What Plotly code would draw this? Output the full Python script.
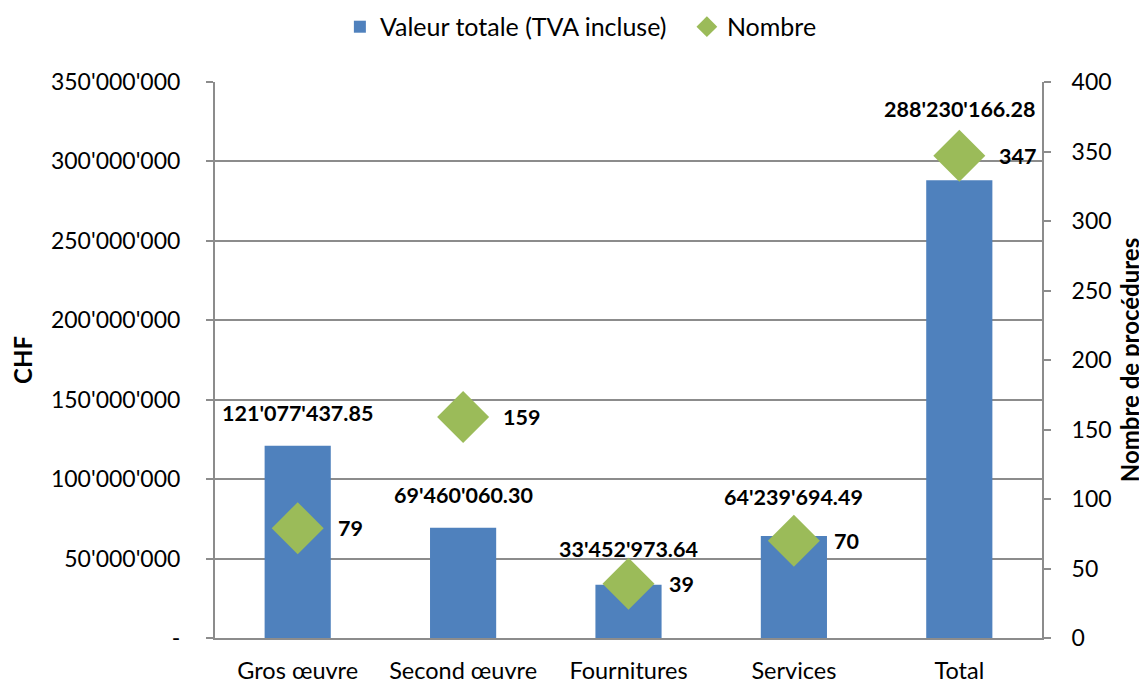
import plotly.graph_objects as go

categories = ["Gros œuvre", "Second œuvre", "Fournitures", "Services", "Total"]
valeurs = [121077437.85, 69460060.30, 33452973.64, 64239694.49, 288230166.28]
nombres = [79, 159, 39, 70, 347]
left_ticks = [0, 50e6, 100e6, 150e6, 200e6, 250e6, 300e6, 350e6]
left_tick_text = ["-", "50'000'000", "100'000'000", "150'000'000", "200'000'000",
                  "250'000'000", "300'000'000", "350'000'000"]
right_ticks = [0, 50, 100, 150, 200, 250, 300, 350, 400]

FONT = "Lato"
GRID = "#8C8C8C"
YTICK_SIZE = 23
XTICK_SIZE = 23.5
LABEL_SIZE = 21.5
TITLE_SIZE = 24

def fmt_chf(v):
    s = f"{v:,.2f}"
    return s.replace(",", "'")

fig = go.Figure()
fig.add_trace(go.Bar(
    x=categories, y=valeurs, name="Valeur totale (TVA incluse)",
    marker=dict(color="#4F81BD", line=dict(width=0)), width=0.4, yaxis="y",
))
fig.add_trace(go.Scatter(
    x=categories, y=nombres, name="Nombre", mode="markers", yaxis="y2",
    marker=dict(symbol="diamond", size=40, color="#9BBB59", line=dict(width=0)),
))

label_shift = [33, 33, 36, 39, 71]
for c, v, s in zip(categories, valeurs, label_shift):
    fig.add_annotation(x=c, y=v, xref="x", yref="y", text=f"<b>{fmt_chf(v)}</b>",
                       showarrow=False, yshift=s, xanchor="center", yanchor="middle",
                       font=dict(family=FONT, size=LABEL_SIZE, color="black"))
for c, n in zip(categories, nombres):
    fig.add_annotation(x=c, y=n, xref="x", yref="y2", text=f"<b>{n}</b>",
                       showarrow=False, xshift=38, xanchor="left", yanchor="middle",
                       font=dict(family=FONT, size=LABEL_SIZE, color="black"))

# the page body adds an 8px offset; size the figure to the visible area
fig.update_layout(
    width=1139, height=675,
    margin=dict(l=207, r=105, t=74, b=45, autoexpand=False),
    plot_bgcolor="white", paper_bgcolor="white",
    font=dict(family=FONT, size=YTICK_SIZE, color="black"),
    showlegend=True,
    legend=dict(orientation="h", x=0.151, xanchor="left", y=1.099, yanchor="middle",
                font=dict(family=FONT, size=25), itemwidth=30, traceorder="normal",
                entrywidth=302, entrywidthmode="pixels"),
    xaxis=dict(showline=True, linecolor=GRID, linewidth=2, ticks="", showgrid=False,
               tickfont=dict(family=FONT, size=XTICK_SIZE), ticklabelstandoff=11,
               automargin=False),
    yaxis=dict(range=[0, 350e6], tickvals=left_ticks, ticktext=left_tick_text,
               showgrid=True, gridcolor=GRID, gridwidth=2, showline=True, linecolor=GRID,
               linewidth=2, ticks="outside", ticklen=7, tickcolor=GRID, tickwidth=2,
               zeroline=False, tickfont=dict(family=FONT, size=YTICK_SIZE),
               ticklabelstandoff=21, automargin=False,
               title=dict(text="<b>CHF</b>", font=dict(family=FONT, size=TITLE_SIZE), standoff=13)),
    yaxis2=dict(range=[0, 400], tickvals=right_ticks, overlaying="y", side="right",
                showgrid=False, showline=True, linecolor=GRID, linewidth=2,
                ticks="outside", ticklen=7, tickcolor=GRID, tickwidth=2, zeroline=False,
                tickfont=dict(family=FONT, size=YTICK_SIZE), ticklabelstandoff=16,
                automargin=False,
                title=dict(text="<b>Nombre de procédures</b>",
                           font=dict(family=FONT, size=TITLE_SIZE), standoff=12)),
)

fig.write_html("out.html")
